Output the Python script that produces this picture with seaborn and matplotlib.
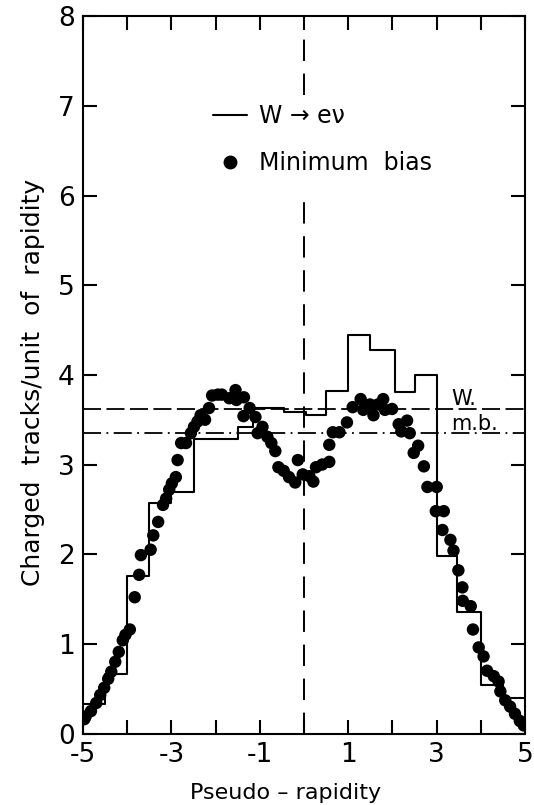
import numpy as np
import pandas as pd
import matplotlib
matplotlib.use("Agg")
import matplotlib.pyplot as plt
import seaborn as sns
from matplotlib.lines import Line2D

# ---------------- data ----------------
# W -> e nu histogram: bin edges and heights
w_edges = [-5.0, -4.5, -4.0, -3.5, -3.0, -2.5, -2.0, -1.5, -1.15, -0.45, 0.05,
           0.5, 1.0, 1.5, 2.05, 2.5, 3.0, 3.45, 4.0, 4.5, 5.0]
w_heights = [0.33, 0.66, 1.76, 2.57, 2.69, 3.28, 3.28, 3.42, 3.63, 3.59, 3.55,
             3.82, 4.45, 4.28, 3.81, 4.00, 1.98, 1.35, 0.54, 0.40]

# Minimum bias points
mb_eta = [-4.97, -4.94, -4.82, -4.70, -4.61, -4.52, -4.43, -4.36, -4.27, -4.19,
          -4.10, -4.04, -3.94, -3.83, -3.73, -3.69, -3.47, -3.41, -3.30, -3.19,
          -3.12, -3.05, -2.99, -2.90, -2.86, -2.78, -2.67, -2.56, -2.49, -2.41,
          -2.34, -2.24, -2.15, -2.08, -1.95, -1.86, -1.69, -1.55, -1.53, -1.36,
          -1.37, -1.23, -1.10, -1.05, -0.94, -0.83, -0.74, -0.65, -0.58, -0.46,
          -0.34, -0.20, -0.14, -0.03, 0.12, 0.21, 0.27, 0.41, 0.57, 0.57,
          0.65, 0.80, 0.97, 1.10, 1.28, 1.34, 1.49, 1.57, 1.67, 1.79,
          1.83, 1.99, 2.14, 2.20, 2.33, 2.39, 2.48, 2.58, 2.71, 2.79,
          3.00, 2.98, 3.16, 3.13, 3.31, 3.38, 3.49, 3.58, 3.59, 3.77,
          3.82, 3.95, 4.06, 4.14, 4.29, 4.40, 4.44, 4.55, 4.66, 4.77,
          4.88, 4.97]
mb_mult = [0.16, 0.19, 0.25, 0.34, 0.43, 0.51, 0.61, 0.69, 0.80, 0.91,
           1.04, 1.10, 1.16, 1.52, 1.77, 1.99, 2.05, 2.21, 2.36, 2.55,
           2.62, 2.72, 2.79, 2.86, 3.05, 3.24, 3.24, 3.35, 3.42, 3.48,
           3.55, 3.50, 3.63, 3.77, 3.78, 3.78, 3.74, 3.83, 3.72, 3.75,
           3.54, 3.63, 3.53, 3.35, 3.42, 3.31, 3.24, 3.15, 2.97, 2.93,
           2.86, 2.80, 3.05, 2.89, 2.87, 2.81, 2.97, 3.00, 3.03, 3.22,
           3.36, 3.36, 3.47, 3.64, 3.73, 3.61, 3.67, 3.55, 3.67, 3.73,
           3.61, 3.62, 3.45, 3.37, 3.49, 3.35, 3.13, 3.21, 2.98, 2.75,
           2.75, 2.48, 2.48, 2.27, 2.16, 2.04, 1.82, 1.63, 1.48, 1.42,
           1.16, 0.96, 0.86, 0.70, 0.64, 0.58, 0.47, 0.37, 0.30, 0.22,
           0.14, 0.09]

# mean multiplicity levels
w_mean = 3.62
mb_mean = 3.35

x_ticks = [-5, -4, -3, -2, -1, 0, 1, 2, 3, 4, 5]
x_tick_labels = ["-5", "", "-3", "", "-1", "", "1", "", "3", "", "5"]
y_ticks = [0, 1, 2, 3, 4, 5, 6, 7, 8]
y_tick_labels = ["0", "1", "2", "3", "4", "5", "6", "7", "8"]

label_w = "W \u2192 e\u03bd"
label_mb = "Minimum  bias"
x_title = "Pseudo \u2013 rapidity"
y_title = "Charged  tracks/unit  of  rapidity"

# ---------------- style ----------------
sns.set_style("ticks")
plt.rcParams["font.family"] = ["DejaVu Sans"]
plt.rcParams["axes.unicode_minus"] = False
plt.rcParams["text.color"] = "black"
plt.rcParams["axes.labelcolor"] = "black"
plt.rcParams["xtick.color"] = "black"
plt.rcParams["ytick.color"] = "black"
plt.rcParams["legend.labelcolor"] = "black"

fig = plt.figure(figsize=(5.34, 8.05), dpi=100)
ax = fig.add_axes([0.1554, 0.0888, 0.828, 0.891])

w_centers = [(a + b) / 2 for a, b in zip(w_edges[:-1], w_edges[1:])]
df_w = pd.DataFrame({"eta": w_centers, "h": w_heights})
df_mb = pd.DataFrame({"eta": mb_eta, "n": mb_mult})

sns.histplot(data=df_w, x="eta", weights="h", bins=w_edges, element="step",
             fill=False, color="black", linewidth=1.5, ax=ax)
sns.scatterplot(data=df_mb, x="eta", y="n", color="black", s=80,
                edgecolor="none", ax=ax, zorder=3)

# reference lines
ax.axhline(w_mean, color="black", lw=1.3, ls=(0, (10, 3)))
ax.axhline(mb_mean, color="black", lw=1.3, ls=(0, (10, 3, 1, 3)))
ax.plot([0, 0], [0, 6.05], color="black", lw=1.4, ls=(0, (11, 6.5)))
ax.plot([0, 0], [7.12, 8], color="black", lw=1.4, ls=(0, (11, 6.5)))

ax.text(3.32, 3.66, "W.", fontsize=15, va="baseline", ha="left", color="black")
ax.text(3.32, 3.39, "m.b.", fontsize=15, va="baseline", ha="left", color="black")

# legend
handles = [Line2D([], [], color="black", lw=1.5),
           Line2D([], [], color="black", marker="o", ls="", markersize=9)]
ax.legend(handles, [label_w, label_mb], loc="upper left",
          bbox_to_anchor=(0.293, 0.878), frameon=False, fontsize=17,
          handlelength=1.45, handletextpad=0.5, labelspacing=1.0,
          borderpad=0, borderaxespad=0, labelcolor="black")

ax.set_xlim(-5, 5)
ax.set_ylim(0, 8)
ax.set_xticks(x_ticks)
ax.set_xticklabels(x_tick_labels)
ax.set_yticks(y_ticks)
ax.set_yticklabels(y_tick_labels)
ax.tick_params(direction="in", length=9.8, width=1.5, top=True, right=True,
               labelsize=19, pad=6, colors="black")
for sp in ax.spines.values():
    sp.set_linewidth(1.5)
    sp.set_color("black")

ax.set_xlabel(x_title, fontsize=16, color="black")
ax.set_ylabel(y_title, fontsize=18, color="black")
ax.xaxis.set_label_coords(0.458, -0.069)
ax.yaxis.set_label_coords(-0.085, 0.49)

fig.savefig("out.png", dpi=100)
